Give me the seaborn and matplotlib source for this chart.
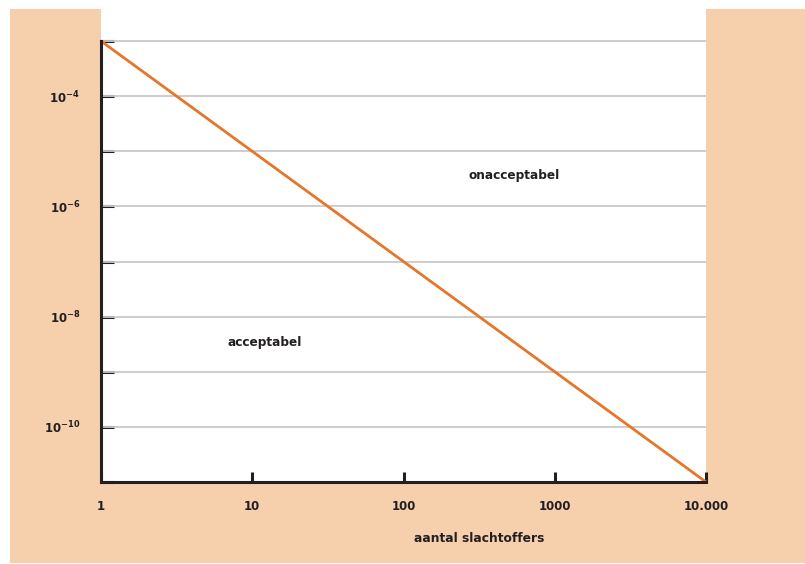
import matplotlib
matplotlib.use("Agg")
import matplotlib.pyplot as plt
from matplotlib.patches import Rectangle
import numpy as np
import pandas as pd
import seaborn as sns

# norm line (log-log): 1 victim -> 1e-3, 10.000 victims -> 1e-11
victims = [1, 10000]
probability = [1e-3, 1e-11]

x_ticks = [1, 10, 100, 1000, 10000]
x_labels = ["1", "10", "100", "1000", "10.000"]
y_exps = [-3, -4, -5, -6, -7, -8, -9, -10, -11]
y_label_exps = [-4, -6, -8, -10]

peach = "#F6D0AC"
orange = "#E5762A"
dark = "#231F20"

sns.set_theme(style="white")
plt.rcParams["font.family"] = ["DejaVu Sans"]

fig = plt.figure(figsize=(8.05, 5.64), dpi=100)
W, H = 805, 564
fig.patches.append(Rectangle((10 / W, 1 - 563 / H), 795 / W, 554 / H,
                             transform=fig.transFigure, facecolor=peach,
                             edgecolor="none", zorder=-10))
ax = fig.add_axes([101 / W, 1 - 482 / H, 605 / W, 482 / H])
ax.set_facecolor("white")

df = pd.DataFrame({"x": victims, "y": probability})
sns.lineplot(data=df, x="x", y="y", color=orange, linewidth=2.0, ax=ax,
             zorder=5, clip_on=False)

ax.set_xscale("log")
ax.set_yscale("log")
ax.set_xlim(1, 10000)
top = 10 ** (-3 + 41 / 55)
ax.set_ylim(1e-11, top)

yt = [10.0 ** e for e in y_exps]
ax.set_yticks(yt)
ax.set_yticklabels([r"$\mathbf{10^{%d}}$" % e if e in y_label_exps else ""
                    for e in y_exps])
ax.yaxis.set_minor_locator(matplotlib.ticker.NullLocator())
ax.set_xticks(x_ticks)
ax.set_xticklabels(x_labels)
ax.xaxis.set_minor_locator(matplotlib.ticker.NullLocator())

for e in y_exps[:-1]:
    ax.axhline(10.0 ** e, color="#C9C9C9", linewidth=1.3, zorder=1)

ax.tick_params(axis="y", direction="in", length=9, width=2.2, color=dark,
               pad=15, labelsize=8.5, labelcolor=dark, left=True)
ax.tick_params(axis="x", direction="in", length=7, width=2.2, color=dark,
               pad=13, labelsize=8.5, labelcolor=dark, bottom=True)
for lab in ax.get_xticklabels():
    lab.set_fontweight("bold")

for s in ["top", "right"]:
    ax.spines[s].set_visible(False)
for s in ["left", "bottom"]:
    ax.spines[s].set_color(dark)
    ax.spines[s].set_linewidth(2.2)
    ax.spines[s].set_zorder(6)
ax.spines["left"].set_bounds(1e-11, 1e-3)

ax.set_ylabel("")
ax.set_xlabel("aantal slachtoffers", fontsize=8.8, fontweight="bold", color=dark)
ax.xaxis.set_label_coords((479 - 101) / 605, -(538 - 482) / 482)
ax.xaxis.label.set_va("center")

ax.text(537, 10 ** -5.44, "onacceptabel", fontsize=8.7, fontweight="bold",
        color=dark, ha="center", va="center")
ax.text(12, 10 ** -8.47, "acceptabel", fontsize=8.7, fontweight="bold",
        color=dark, ha="center", va="center")

fig.savefig("out.png", dpi=100)
